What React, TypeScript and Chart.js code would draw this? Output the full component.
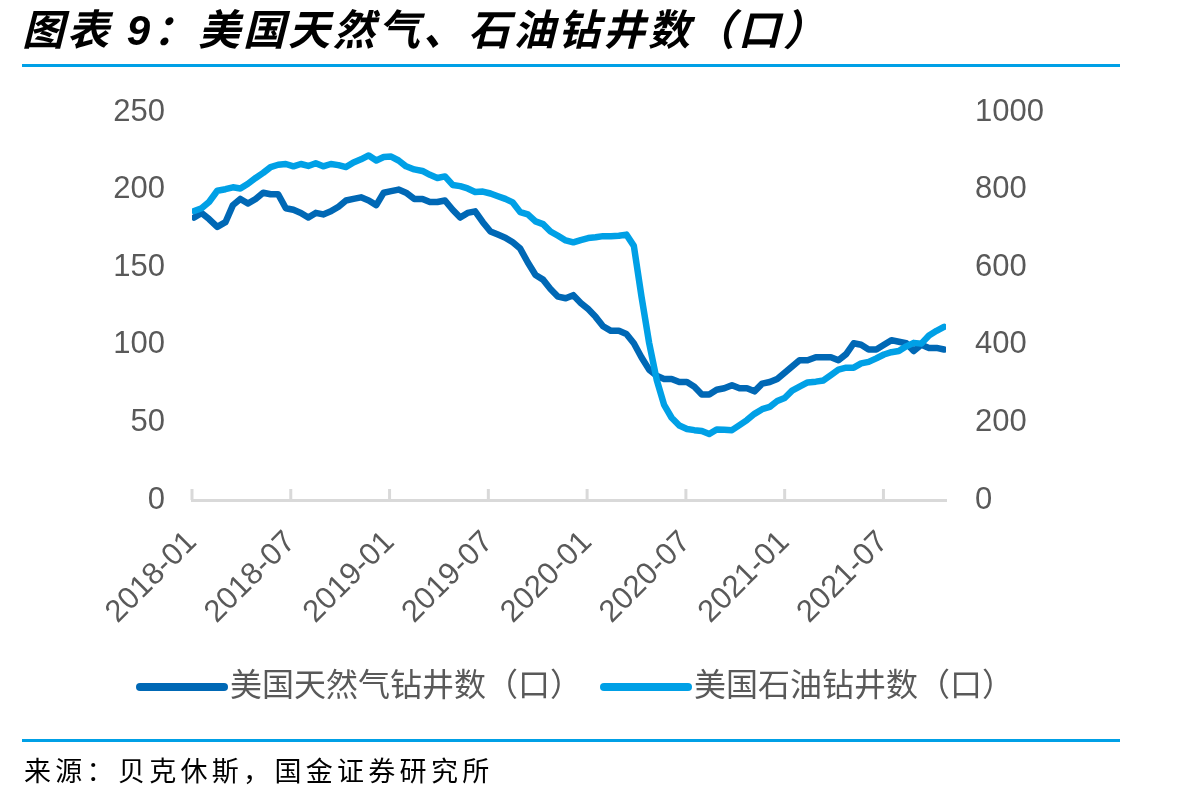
import React, { useEffect, useRef } from "react";
import { Chart, registerables } from "chart.js";

Chart.register(...registerables);

// Weekly rig-count readings, sampled every two weeks starting 2018-01-05
const START_DATE = "2018-01-05";
const STEP_DAYS = 14;

// US natural-gas rigs (left axis)
const gasRigs = [
  182, 185, 181, 176, 179, 190, 194, 191, 194, 198,
  197, 197, 188, 187, 185, 182, 185, 184, 186, 189,
  193, 194, 195, 193, 190, 198, 199, 200, 198, 194,
  194, 192, 192, 193, 187, 182, 185, 186, 179, 173,
  171, 169, 166, 162, 153, 145, 142, 136, 131, 130,
  132, 127, 123, 118, 112, 109, 109, 107, 101, 92,
  84, 80, 78, 78, 76, 76, 73, 68, 68, 71,
  72, 74, 72, 72, 70, 75, 76, 78, 82, 86,
  90, 90, 92, 92, 92, 90, 94, 101, 100, 97,
  97, 100, 103, 102, 101, 96, 100, 98, 98, 97,
];

// US oil rigs (right axis)
const oilRigs = [
  745, 752, 768, 797, 801, 806, 803, 815, 830, 843,
  858, 864, 866, 860, 866, 861, 868, 860, 866, 863,
  858, 870, 878, 888, 875, 884, 885, 875, 860, 852,
  848, 838, 830, 834, 812, 809, 803, 794, 795, 790,
  783, 776, 767, 742, 736, 718, 711, 692, 681, 669,
  664, 670, 675, 677, 680, 680, 681, 684, 655, 525,
  405, 310, 245, 212, 192, 183, 180, 178, 170, 182,
  181, 180, 193, 206, 222, 234, 240, 255, 263, 282,
  292, 303, 305, 308, 322, 336, 341, 341, 352, 356,
  365, 375, 381, 384, 396, 405, 403, 424, 436, 446,
];

const seriesLabels = ["美国天然气钻井数（口）", "美国石油钻井数（口）"];
const seriesColors = ["#0068b5", "#00a0e6"];

// x positions are months counted from 2018-01
const xTickMonths = [0, 6, 12, 18, 24, 30, 36, 42];
const X_MAX_MONTHS = 45.8;
const BASE_YEAR = 2018;

const LEFT_MAX = 250;
const LEFT_STEP = 50;
const RIGHT_MAX = 1000;
const RIGHT_STEP = 200;

const TITLE = "图表 9：美国天然气、石油钻井数（口）";
const SOURCE = "来源：贝克休斯，国金证券研究所";

const TICK_COLOR = "#595959";
const AXIS_COLOR = "#d9d9d9";
const RULE_COLOR = "#00a0e6";
const LATIN_FONT = "'Liberation Sans', Arial, 'Noto Sans CJK SC', sans-serif";

function monthsSinceBase(d: Date): number {
  const y = d.getUTCFullYear();
  const m = d.getUTCMonth();
  const days = new Date(Date.UTC(y, m + 1, 0)).getUTCDate();
  return (y - BASE_YEAR) * 12 + m + (d.getUTCDate() - 1) / days;
}

function sampleMonths(count: number): number[] {
  const start = new Date(START_DATE + "T00:00:00Z").getTime();
  const out: number[] = [];
  for (let i = 0; i < count; i++) {
    out.push(monthsSinceBase(new Date(start + i * STEP_DAYS * 86400000)));
  }
  return out;
}

function formatMonth(v: number): string {
  const y = BASE_YEAR + Math.floor(v / 12);
  const m = (Math.round(v) % 12) + 1;
  return `${y}-${String(m).padStart(2, "0")}`;
}

// Legend swatch: a thick round-capped stroke in the series colour
function legendSwatch(color: string): HTMLCanvasElement {
  const c = document.createElement("canvas");
  c.width = 92;
  c.height = 10;
  const g = c.getContext("2d");
  if (g) {
    g.strokeStyle = color;
    g.lineWidth = 8;
    g.lineCap = "round";
    g.beginPath();
    g.moveTo(4, 5);
    g.lineTo(88, 5);
    g.stroke();
  }
  return c;
}

// Short upward tick marks sitting on the category axis line
const innerTickPlugin = {
  id: "innerTicks",
  beforeDatasetsDraw(chart: any) {
    const xs = chart.scales.x;
    const ctx = chart.ctx;
    ctx.save();
    ctx.strokeStyle = AXIS_COLOR;
    ctx.lineWidth = 3;
    xs.ticks.forEach((_t: any, i: number) => {
      const px = xs.getPixelForTick(i);
      ctx.beginPath();
      ctx.moveTo(px, xs.top);
      ctx.lineTo(px, xs.top - 11);
      ctx.stroke();
    });
    ctx.restore();
  },
};

function RigChart() {
  const canvasRef = useRef<HTMLCanvasElement | null>(null);

  useEffect(() => {
    const canvas = canvasRef.current;
    if (!canvas) return;
    const months = sampleMonths(gasRigs.length);
    const swatches = seriesColors.map(legendSwatch);
    const chart = new Chart(canvas, {
      type: "line",
      data: {
        datasets: [
          {
            label: seriesLabels[0],
            data: gasRigs.map((v, i) => ({ x: months[i], y: v })),
            borderColor: seriesColors[0],
            backgroundColor: seriesColors[0],
            borderWidth: 6.5,
            borderJoinStyle: "round",
            borderCapStyle: "round",
            pointRadius: 0,
            tension: 0,
            yAxisID: "y",
            order: 2,
          },
          {
            label: seriesLabels[1],
            data: oilRigs.map((v, i) => ({ x: months[i], y: v })),
            borderColor: seriesColors[1],
            backgroundColor: seriesColors[1],
            borderWidth: 6.5,
            borderJoinStyle: "round",
            borderCapStyle: "round",
            pointRadius: 0,
            tension: 0,
            yAxisID: "y1",
            order: 1,
          },
        ],
      },
      options: {
        responsive: false,
        animation: false,
        layout: { padding: { left: 51, right: 88, top: 112, bottom: 87 } },
        scales: {
          x: {
            type: "linear",
            min: 0,
            max: X_MAX_MONTHS,
            afterBuildTicks: (scale: any) => {
              scale.ticks = xTickMonths.map((v) => ({ value: v }));
            },
            afterFit: (scale: any) => {
              scale.height = 139;
            },
            grid: { display: false, drawTicks: false },
            border: { display: true, color: AXIS_COLOR, width: 3 },
            ticks: {
              autoSkip: false,
              minRotation: 45,
              maxRotation: 45,
              padding: 24,
              color: TICK_COLOR,
              font: { family: LATIN_FONT, size: 31 },
              callback: (v: any) => formatMonth(Number(v)),
            },
          },
          y: {
            position: "left",
            min: 0,
            max: LEFT_MAX,
            afterFit: (scale: any) => {
              scale.width = 141;
            },
            grid: { display: false, drawTicks: false },
            border: { display: false },
            ticks: {
              stepSize: LEFT_STEP,
              padding: 27,
              color: TICK_COLOR,
              font: { family: LATIN_FONT, size: 31 },
              callback: (v: any) => String(v),
            },
          },
          y1: {
            position: "right",
            min: 0,
            max: RIGHT_MAX,
            afterFit: (scale: any) => {
              scale.width = 167;
            },
            grid: { display: false, drawTicks: false },
            border: { display: false },
            ticks: {
              stepSize: RIGHT_STEP,
              padding: 29,
              color: TICK_COLOR,
              font: { family: LATIN_FONT, size: 31 },
              callback: (v: any) => String(v),
            },
          },
        },
        plugins: {
          tooltip: { enabled: false },
          legend: {
            position: "bottom",
            labels: {
              usePointStyle: true,
              pointStyleWidth: 64,
              boxHeight: 10,
              padding: 32,
              color: TICK_COLOR,
              font: { family: LATIN_FONT, size: 32 },
              generateLabels: (c: any) =>
                c.data.datasets.map((ds: any, i: number) => ({
                  text: ds.label,
                  fillStyle: ds.borderColor,
                  strokeStyle: ds.borderColor,
                  lineWidth: 0,
                  pointStyle: swatches[i],
                  hidden: false,
                  datasetIndex: i,
                  fontColor: TICK_COLOR,
                })),
            },
          },
        },
      },
      plugins: [innerTickPlugin],
    });
    return () => chart.destroy();
  }, []);

  return (
    <canvas
      ref={canvasRef}
      width={1201}
      height={800}
      style={{ position: "absolute", left: 0, top: 0, width: 1201, height: 800 }}
    />
  );
}

export default function App() {
  return (
    <div
      style={{
        position: "absolute",
        left: 0,
        top: 0,
        width: 1201,
        height: 800,
        background: "#ffffff",
        overflow: "hidden",
      }}
    >
      <RigChart />
      <div
        style={{
          position: "absolute",
          left: 22,
          top: 5,
          fontFamily: LATIN_FONT,
          fontWeight: 700,
          fontStyle: "italic",
          fontSize: 42,
          letterSpacing: 3,
          lineHeight: "52px",
          color: "#000000",
          whiteSpace: "nowrap",
        }}
      >
        {TITLE}
      </div>
      <div
        style={{
          position: "absolute",
          left: 22,
          top: 64,
          width: 1098,
          height: 3,
          background: RULE_COLOR,
        }}
      />
      <div
        style={{
          position: "absolute",
          left: 22,
          top: 739,
          width: 1098,
          height: 3,
          background: RULE_COLOR,
        }}
      />
      <div
        style={{
          position: "absolute",
          left: 24,
          top: 752,
          fontFamily: "'Noto Sans CJK SC', serif",
          fontSize: 27,
          letterSpacing: 4.3,
          lineHeight: "36px",
          color: "#000000",
          whiteSpace: "nowrap",
        }}
      >
        {SOURCE}
      </div>
    </div>
  );
}
